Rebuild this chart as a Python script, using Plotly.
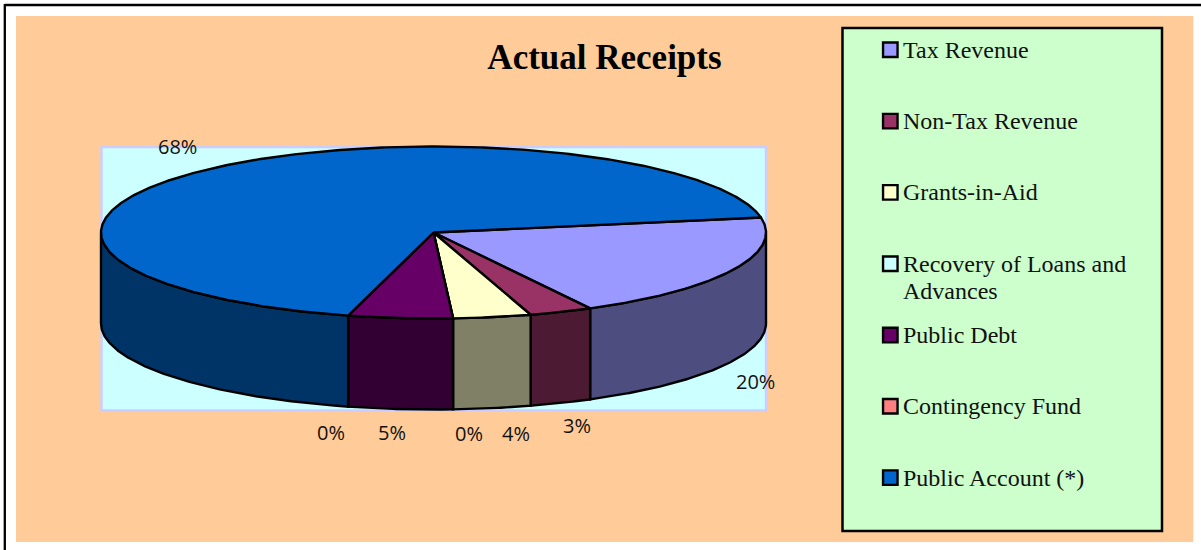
import numpy as np
import plotly.graph_objects as go

# ---- data ----
categories = ["Tax Revenue", "Non-Tax Revenue", "Grants-in-Aid",
              "Recovery of Loans and<br>Advances", "Public Debt",
              "Contingency Fund", "Public Account (*)"]
values = [19.97, 3.09, 3.78, 0, 5.07, 0, 68.09]
top_colors = ["#9999FF", "#993366", "#FFFFCC", "#CCFFFF", "#660066", "#FF8080", "#0066CC"]
side_colors = ["#4D4D80", "#4D1A33", "#808066", "#668080", "#330033", "#804040", "#003366"]
title_text = "Actual Receipts"

# ---- layout constants (pixel space) ----
W, H = 1201, 550
CX, CY, RX, RY, DEPTH = 433.5, 232.5, 332.5, 86, 91
START_DEG = -10
LABEL_XY = [(755, 381), (577, 425), (516, 433), (469, 433), (392, 432), (331, 432), (177, 146)]
LEGEND_X, LEGEND_Y0, LEGEND_STEP = 890.3, 49.8, 71.3
LEGEND_LINE = 27


def rim(a, b, dy=0.0):
    t = np.radians(np.linspace(a, b, max(2, int(abs(b - a) * 2) + 2)))
    return CX + RX * np.cos(t), CY + RY * np.sin(t) + dy


fig = go.Figure()
edges = np.cumsum([0] + values) * 360 / sum(values) + START_DEG
line = dict(color="black", width=2.4)

# side walls (only the front half of the cylinder is visible)
for i in range(len(values)):
    a, b = max(edges[i], 0), min(edges[i + 1], 180)
    if b <= a:
        continue
    x1, y1 = rim(a, b)
    x2, y2 = rim(b, a, DEPTH)
    fig.add_trace(go.Scatter(x=np.r_[x1, x2, x1[0]], y=np.r_[y1, y2, y1[0]], mode="lines",
                             fill="toself", fillcolor=side_colors[i], line=line,
                             hoverinfo="skip", showlegend=False))

# top faces
for i in range(len(values)):
    x, y = rim(edges[i], edges[i + 1])
    fig.add_trace(go.Scatter(x=np.r_[CX, x, CX], y=np.r_[CY, y, CY], mode="lines",
                             fill="toself", fillcolor=top_colors[i], line=line,
                             name=categories[i].replace("<br>", " "), showlegend=False))

# legend
for i, name in enumerate(categories):
    ly = LEGEND_Y0 + i * LEGEND_STEP
    fig.add_trace(go.Scatter(x=[LEGEND_X], y=[ly], mode="markers",
                             marker=dict(symbol="square", size=14.5, color=top_colors[i],
                                         line=dict(color="black", width=2.4)),
                             hoverinfo="skip", showlegend=False))
    for j, part in enumerate(name.split("<br>")):
        fig.add_annotation(x=LEGEND_X + 12, y=ly + j * LEGEND_LINE, text=part, showarrow=False,
                           xanchor="left", yanchor="middle", align="left", borderpad=0,
                           font=dict(family="Liberation Serif", size=24, color="#111111"))

# percentage labels
for v, (lx, ly) in zip(values, LABEL_XY):
    fig.add_annotation(x=lx, y=ly, text=f"{round(v)}%", showarrow=False,
                       font=dict(family="Open Sans", size=20, color="#111111"))

frame = dict(color="black", width=2.3)
shapes = [
    dict(type="line", x0=4.8, y0=5, x1=W, y1=5, line=frame),
    dict(type="line", x0=4.8, y0=4, x1=4.8, y1=H, line=frame),
    dict(type="rect", x0=16, y0=16, x1=1193.3, y1=542, line=dict(width=0), fillcolor="#FFCC99"),
    dict(type="rect", x0=101.5, y0=147, x1=766, y1=410.5, line=dict(color="#CCCCFF", width=2.4), fillcolor="#CCFFFF"),
    dict(type="rect", x0=842.5, y0=28, x1=1162, y1=531, line=dict(color="black", width=2.5), fillcolor="#CCFFCC"),
]
for s in shapes:
    s.update(layer="below", xref="x", yref="y")

fig.update_layout(
    width=W, height=H, autosize=False,
    margin=dict(l=0, r=0, t=0, b=0, pad=0),
    paper_bgcolor="white", plot_bgcolor="white",
    xaxis=dict(range=[0, W], visible=False, fixedrange=True),
    yaxis=dict(range=[H, 0], visible=False, fixedrange=True),
    shapes=shapes,
    title=dict(text=f"<b>{title_text}</b>", x=604.5 / W, xanchor="center", y=1 - 57 / H, yanchor="middle",
               font=dict(family="Liberation Serif", size=35, color="black")),
)

fig.write_html("out.html", config={"displayModeBar": False}, post_script="document.body.style.margin='0';")
